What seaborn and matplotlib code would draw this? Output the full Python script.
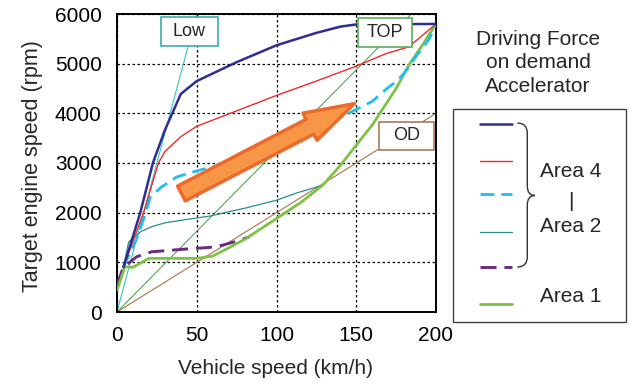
import matplotlib
matplotlib.use("Agg")
import matplotlib.pyplot as plt
import seaborn as sns
import numpy as np
from matplotlib.patches import FancyArrowPatch, Rectangle, PathPatch
from matplotlib.path import Path
from matplotlib.lines import Line2D
from matplotlib.transforms import Affine2D

# ---- data: vehicle speed (km/h) vs target engine speed (rpm) ----
top_speed = [4, 14.6, 22.5, 30, 40, 50, 75, 100, 125, 140, 150, 200]
top_rpm = [900, 2000, 3000, 3660, 4390, 4650, 5030, 5370, 5620, 5745, 5790, 5800]

red_speed = [4, 16.7, 26, 30, 40, 50, 75, 100, 125, 150, 168.5, 183, 200]
red_rpm = [900, 2000, 3000, 3230, 3530, 3740, 4050, 4360, 4650, 4950, 5200, 5340, 5800]

mid_speed = [4, 12, 17, 21, 28, 37.5, 51, 60, 80, 110, 141, 150, 160, 165, 170, 175,
             179, 183, 188, 192, 196, 200]
mid_rpm = [900, 1450, 1900, 2320, 2520, 2720, 2850, 2920, 3170, 3550, 3930, 4080, 4240,
           4380, 4520, 4640, 4770, 4940, 5170, 5330, 5510, 5800]

teal_speed = [4, 7.3, 15, 22, 30, 45, 58, 81, 100, 113, 129]
teal_rpm = [900, 1410, 1620, 1720, 1795, 1870, 1930, 2097, 2251, 2400, 2553]

low2_speed = [0, 4, 12.3, 21.7, 40, 58, 66.4, 75.8, 83]
low2_rpm = [550, 900, 1112, 1212, 1260, 1300, 1347, 1433, 1515]

area1_speed = [0, 5, 10, 20, 50, 60, 70, 81, 100, 115, 129, 140, 150, 160, 175, 183,
               191.5, 200]
area1_rpm = [440, 910, 900, 1080, 1080, 1126, 1290, 1481, 1883, 2200, 2553, 2950, 3360,
             3765, 4500, 4970, 5375, 5800]

# fixed gear-ratio lines
low_gear_speed = [0, 50]
low_gear_rpm = [0, 6000]
top_gear_speed = [0, 184.6]
top_gear_rpm = [0, 6000]
od_gear_speed = [0, 200]
od_gear_rpm = [0, 4000]

x_ticks = [0, 50, 100, 150, 200]
y_ticks = [0, 1000, 2000, 3000, 4000, 5000, 6000]

sns.set_style("white")
plt.rcParams["font.family"] = ["Liberation Sans", "DejaVu Sans"]

W, H = 631, 385
fig = plt.figure(figsize=(W / 100, H / 100), dpi=100)
ax = fig.add_axes([117 / W, 1 - 312 / H, 319 / W, 298 / H])

# gear lines
gear_styles = [
    (low_gear_speed, low_gear_rpm, "#35C4C4", 0.8),
    (top_gear_speed, top_gear_rpm, "#3E9E3E", 0.7),
    (od_gear_speed, od_gear_rpm, "#A87448", 0.8),
]
for xs, ys, c, lw in gear_styles:
    sns.lineplot(x=xs, y=ys, color=c, linewidth=lw, ax=ax, zorder=2)

curves = [
    (low2_speed, low2_rpm, "#6B2A7E", 2.1, (0, (5.5, 2.7))),
    (teal_speed, teal_rpm, "#2A8C8C", 0.9, "-"),
    (area1_speed, area1_rpm, "#7DC245", 2.0, "-"),
    (mid_speed, mid_rpm, "#1EC0F0", 2.0, (0, (5, 2.5))),
    (red_speed, red_rpm, "#EE2A2A", 1.0, "-"),
    (top_speed, top_rpm, "#2E2E8E", 1.8, "-"),
]
legend_handles = []
for xs, ys, c, lw, ls in curves:
    sns.lineplot(x=xs, y=ys, color=c, linewidth=lw, linestyle=ls, ax=ax, zorder=3)
    legend_handles.append((c, lw, ls))

ax.set_xlim(0, 200)
ax.set_ylim(0, 6000)
ax.set_xticks(x_ticks)
ax.set_yticks(y_ticks)
ax.grid(True, color="black", linestyle=(0, (2, 2)), linewidth=0.9)
ax.tick_params(axis="both", direction="in", length=3, width=1, labelsize=15, colors="black")
ax.tick_params(axis="y", pad=11)
ax.tick_params(axis="x", pad=10)
for s in ax.spines.values():
    s.set_color("black")
    s.set_linewidth(1.4)
    s.set_visible(True)

ax.set_xlabel("Vehicle speed (km/h)", fontsize=15)
ax.set_ylabel("Target engine speed (rpm)", fontsize=15.5)
ax.xaxis.set_label_coords(0.497, -0.158)
ax.yaxis.set_label_coords(-0.232, 0.49)

# gear labels
boxes = [
    ("Low", 27.5, 63.1, 5356, 5940, "#3AADAD"),
    ("TOP", 150.8, 185.2, 5341, 5913, "#5DAA5D"),
    ("OD", 164.4, 198.8, 3262, 3831, "#A67B5B"),
]
for label, x0, x1, y0, y1, ec in boxes:
    ax.add_patch(Rectangle((x0, y0), x1 - x0, y1 - y0, facecolor="white",
                           edgecolor=ec, linewidth=1.2, zorder=5))
    ax.text((x0 + x1) / 2, (y0 + y1) / 2, label, ha="center", va="center",
            fontsize=13, zorder=6)

# demand arrow
arrow = FancyArrowPatch((40.4, 2386), (148.8, 4195),
                        arrowstyle="simple,head_length=36,head_width=22,tail_width=12",
                        mutation_scale=1, shrinkA=0, shrinkB=0,
                        facecolor="#F79646", edgecolor="#EC6A2C", linewidth=2.5,
                        zorder=4)
ax.add_patch(arrow)

# ---- legend panel (pixel coordinates, y downward) ----
px = Affine2D().scale(1 / W, -1 / H).translate(0, 1) + fig.transFigure

fig.text(538, 62.7, "Driving Force\non demand\nAccelerator", transform=px,
         ha="center", va="center", fontsize=15, linespacing=1.3)

fig.add_artist(Rectangle((453.3, 109.3), 172.4, 212.4, transform=px,
                         facecolor="none", edgecolor="#444444", linewidth=1.0))

handle_y = [124, 160.7, 194.3, 232.3, 266.7, 304]
order = [5, 4, 3, 1, 0, 2]
for yy, idx in zip(handle_y, order):
    c, lw, ls = legend_handles[idx]
    fig.add_artist(Line2D([480, 511.7], [yy, yy], transform=px, color=c,
                          linewidth=lw, linestyle=ls))

brace = Path(
    [(517.3, 123), (527.3, 123), (527.3, 133), (527.3, 186),
     (527.3, 195.5), (535, 195.5), (527.3, 195.5), (527.3, 205),
     (527.3, 257), (527.3, 267), (517.3, 267)],
    [Path.MOVETO, Path.CURVE3, Path.CURVE3, Path.LINETO,
     Path.CURVE3, Path.CURVE3, Path.CURVE3, Path.CURVE3,
     Path.LINETO, Path.CURVE3, Path.CURVE3])
fig.add_artist(PathPatch(brace, transform=px, facecolor="none",
                         edgecolor="#333333", linewidth=1.0))

for txt, yy in [("Area 4", 171.7), ("|", 201.7), ("Area 2", 226), ("Area 1", 296)]:
    fig.text(571, yy, txt, transform=px, ha="center", va="center", fontsize=15)

fig.savefig("out.png", dpi=100)
